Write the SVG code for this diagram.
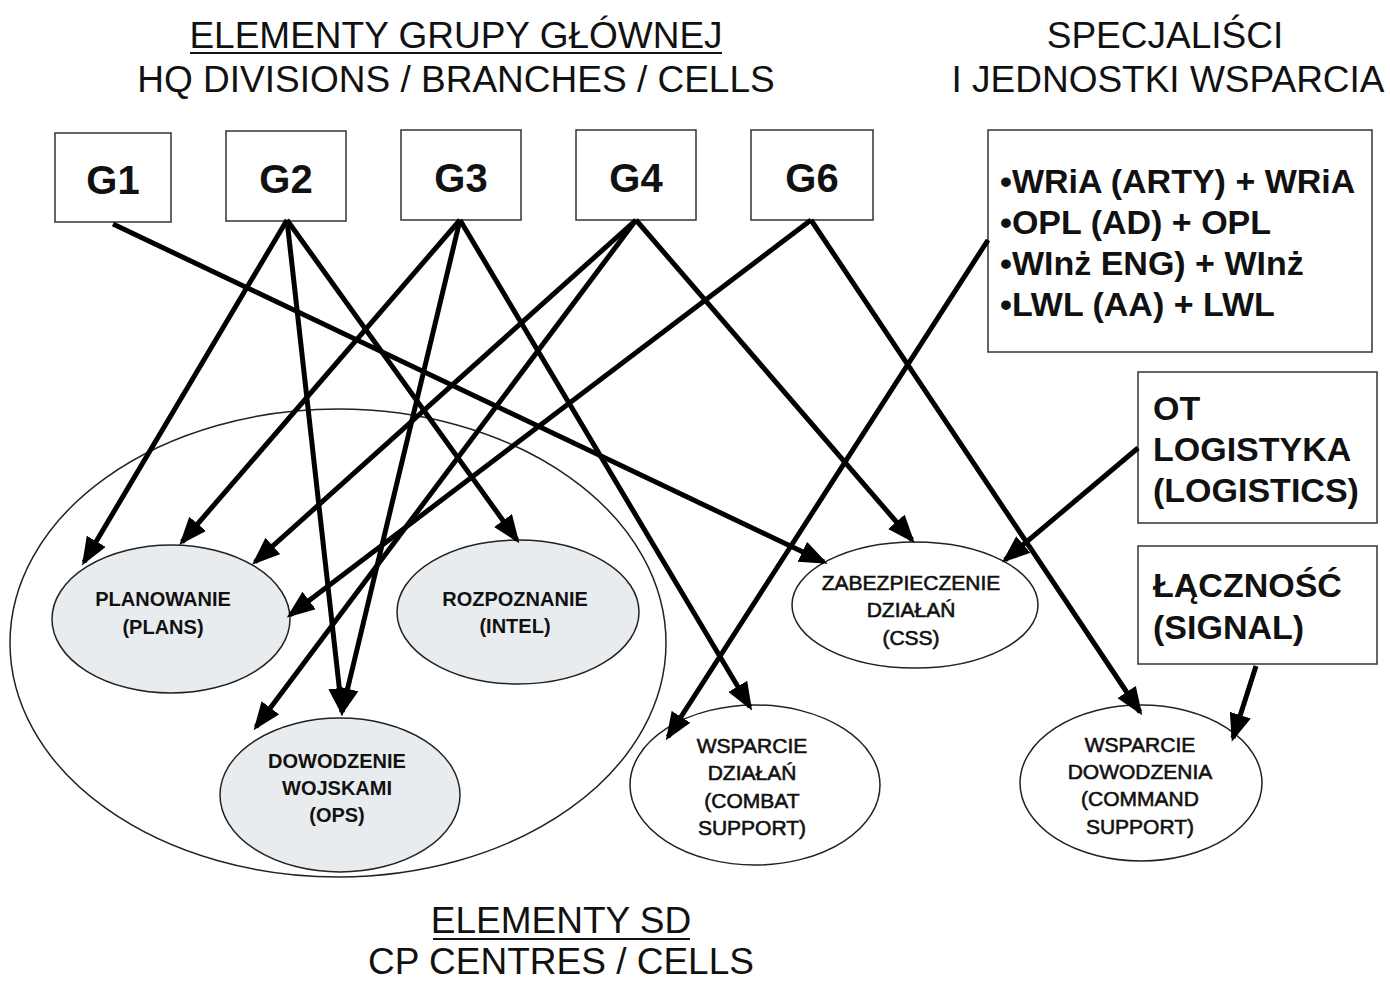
<svg xmlns="http://www.w3.org/2000/svg" width="1390" height="981" viewBox="0 0 1390 981">
  <defs>
    <marker id="head" viewBox="0 0 28 22" refX="24" refY="11" markerWidth="28" markerHeight="22" markerUnits="userSpaceOnUse" orient="auto">
      <path d="M0,0 L28,11 L0,22 Z" fill="#000"/>
    </marker>
    <style>
      text { font-family: "Liberation Sans", Arial, sans-serif; fill: #111; }
      .title { font-size: 37px; text-anchor: middle; }
      .gbox { fill: #fff; stroke: #333; stroke-width: 1.5; }
      .glabel { font-size: 40px; font-weight: bold; text-anchor: middle; }
      .side { font-size: 34px; font-weight: bold; }
      .cell { fill: #e9ecef; stroke: #222; stroke-width: 1.5; }
      .cp { fill: #fff; stroke: #222; stroke-width: 1.5; }
      .lbl { font-size: 20px; font-weight: bold; text-anchor: middle; }
      .lbl2 { font-size: 21px; text-anchor: middle; stroke: #111; stroke-width: 0.6; }
      .link { stroke: #000; stroke-width: 5; fill: none; marker-end: url(#head); }
      .rule { stroke: #111; stroke-width: 2; }
    </style>
  </defs>

  <rect width="1390" height="981" fill="#fff"/>

  <!-- headings -->
  <g id="headings">
    <text class="title" x="456" y="48">ELEMENTY GRUPY GŁÓWNEJ</text>
    <line class="rule" x1="190" y1="53" x2="722" y2="53"/>
    <text class="title" x="456" y="92">HQ DIVISIONS / BRANCHES / CELLS</text>
    <text class="title" x="1165" y="48">SPECJALIŚCI</text>
    <text class="title" x="1168" y="92">I JEDNOSTKI WSPARCIA</text>
    <text class="title" x="561" y="933">ELEMENTY SD</text>
    <line class="rule" x1="433" y1="939" x2="690" y2="939"/>
    <text class="title" x="561" y="974">CP CENTRES / CELLS</text>
  </g>

  <!-- command post boundary -->
  <g id="cp-boundary">
    <ellipse cx="338" cy="643" rx="328" ry="234" fill="none" stroke="#222" stroke-width="1.5"/>
  </g>

  <!-- HQ divisions -->
  <g id="g1"><rect class="gbox" x="55" y="133" width="116" height="89"/><text class="glabel" x="113" y="194">G1</text></g>
  <g id="g2"><rect class="gbox" x="226" y="131" width="120" height="90"/><text class="glabel" x="286" y="193">G2</text></g>
  <g id="g3"><rect class="gbox" x="401" y="130" width="120" height="90"/><text class="glabel" x="461" y="192">G3</text></g>
  <g id="g4"><rect class="gbox" x="576" y="130" width="120" height="90"/><text class="glabel" x="636" y="192">G4</text></g>
  <g id="g6"><rect class="gbox" x="751" y="130" width="122" height="90"/><text class="glabel" x="812" y="192">G6</text></g>

  <!-- specialists and support units -->
  <g id="specialists">
    <rect class="gbox" x="988" y="130" width="384" height="222"/>
    <text class="side" x="1000" y="193">•WRiA (ARTY) + WRiA</text>
    <text class="side" x="1000" y="234">•OPL (AD) + OPL</text>
    <text class="side" x="1000" y="275">•WInż ENG) + WInż</text>
    <text class="side" x="1000" y="316">•LWL (AA) + LWL</text>
  </g>
  <g id="logistics">
    <rect class="gbox" x="1138" y="372" width="239" height="151"/>
    <text class="side" x="1153" y="420">OT</text>
    <text class="side" x="1153" y="461">LOGISTYKA</text>
    <text class="side" x="1153" y="502">(LOGISTICS)</text>
  </g>
  <g id="signal">
    <rect class="gbox" x="1138" y="546" width="239" height="118"/>
    <text class="side" x="1153" y="597">ŁĄCZNOŚĆ</text>
    <text class="side" x="1153" y="639">(SIGNAL)</text>
  </g>

  <!-- CP cells -->
  <g id="plans">
    <ellipse class="cell" cx="171" cy="619" rx="119" ry="74"/>
    <text class="lbl" x="163" y="606">PLANOWANIE</text>
    <text class="lbl" x="163" y="634">(PLANS)</text>
  </g>
  <g id="intel">
    <ellipse class="cell" cx="518" cy="612" rx="121" ry="72"/>
    <text class="lbl" x="515" y="606">ROZPOZNANIE</text>
    <text class="lbl" x="515" y="633">(INTEL)</text>
  </g>
  <g id="ops">
    <ellipse class="cell" cx="340" cy="795" rx="120" ry="77"/>
    <text class="lbl" x="337" y="768">DOWODZENIE</text>
    <text class="lbl" x="337" y="795">WOJSKAMI</text>
    <text class="lbl" x="337" y="822">(OPS)</text>
  </g>
  <g id="css">
    <ellipse class="cp" cx="915" cy="605" rx="123" ry="63"/>
    <text class="lbl2" x="911" y="590">ZABEZPIECZENIE</text>
    <text class="lbl2" x="911" y="617">DZIAŁAŃ</text>
    <text class="lbl2" x="911" y="645">(CSS)</text>
  </g>
  <g id="combat-support">
    <ellipse class="cp" cx="755" cy="785" rx="125" ry="80"/>
    <text class="lbl2" x="752" y="753">WSPARCIE</text>
    <text class="lbl2" x="752" y="780">DZIAŁAŃ</text>
    <text class="lbl2" x="752" y="808">(COMBAT</text>
    <text class="lbl2" x="752" y="835">SUPPORT)</text>
  </g>
  <g id="command-support">
    <ellipse class="cp" cx="1141" cy="783" rx="121" ry="78"/>
    <text class="lbl2" x="1140" y="752">WSPARCIE</text>
    <text class="lbl2" x="1140" y="779">DOWODZENIA</text>
    <text class="lbl2" x="1140" y="806">(COMMAND</text>
    <text class="lbl2" x="1140" y="834">SUPPORT)</text>
  </g>

  <!-- connectors -->
  <g id="connectors">
    <line class="link" x1="113" y1="224" x2="824" y2="562"/>
    <line class="link" x1="287" y1="220" x2="84" y2="562"/>
    <line class="link" x1="287" y1="220" x2="342" y2="712"/>
    <line class="link" x1="287" y1="220" x2="517" y2="540"/>
    <line class="link" x1="460" y1="220" x2="182" y2="542"/>
    <line class="link" x1="460" y1="220" x2="342" y2="712"/>
    <line class="link" x1="460" y1="220" x2="750" y2="707"/>
    <line class="link" x1="636" y1="220" x2="255" y2="562"/>
    <line class="link" x1="636" y1="220" x2="256" y2="727"/>
    <line class="link" x1="636" y1="220" x2="912" y2="540"/>
    <line class="link" x1="811" y1="220" x2="290" y2="615"/>
    <line class="link" x1="811" y1="220" x2="1140" y2="712"/>
    <line class="link" x1="988" y1="240" x2="668" y2="737"/>
    <line class="link" x1="1138" y1="448" x2="1005" y2="560"/>
    <line class="link" x1="1256" y1="666" x2="1233" y2="738"/>
  </g>
</svg>
